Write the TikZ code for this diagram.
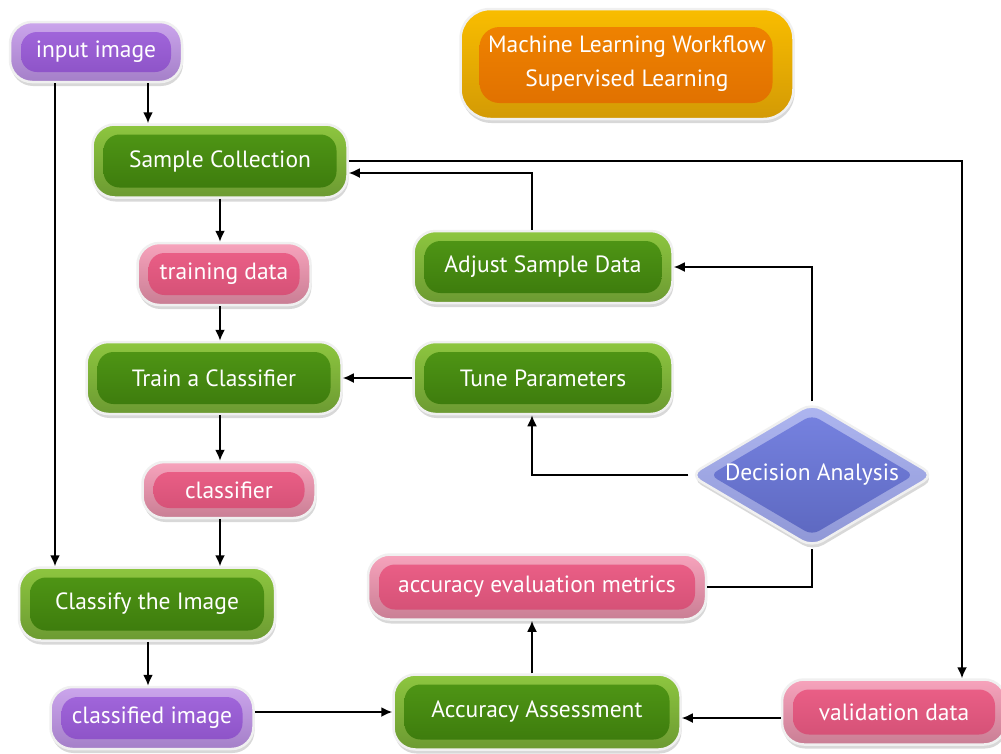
\documentclass[tikz,border=0pt]{standalone}
\usepackage{fontspec}
\setmainfont{PT Sans}
\usetikzlibrary{arrows.meta,shadows,calc,shapes.geometric}
\definecolor{puA}{HTML}{CBA5EC}\definecolor{puB}{HTML}{A47FC8}
\definecolor{puC}{HTML}{A469DE}\definecolor{puD}{HTML}{8A50C4}
\definecolor{grA}{HTML}{8DC63F}\definecolor{grB}{HTML}{6C9A32}
\definecolor{grC}{HTML}{519916}\definecolor{grD}{HTML}{3B780C}
\definecolor{piA}{HTML}{F7A3BC}\definecolor{piB}{HTML}{C97E94}
\definecolor{piC}{HTML}{EE6189}\definecolor{piD}{HTML}{D14F74}
\definecolor{orA}{HTML}{F9BD00}\definecolor{orB}{HTML}{D39A05}
\definecolor{orC}{HTML}{F28600}\definecolor{orD}{HTML}{DE6E00}
\definecolor{blA}{HTML}{AEB6F0}\definecolor{blB}{HTML}{8F97D6}
\definecolor{blC}{HTML}{7884E2}\definecolor{blD}{HTML}{5B66BE}
\begin{document}
\begin{tikzpicture}[x=1pt,y=-1pt,
 every node/.style={font=\fontsize{23.5}{34}\selectfont, text=white},
 pill/.style n args={4}{rounded corners=22pt, draw=gray!12, line width=2.5pt,
   top color=#1, bottom color=#2,
   drop shadow={opacity=0.3,shadow xshift=1pt,shadow yshift=-4pt},
   inner sep=0pt,
   path picture={\shade[top color=#3,bottom color=#4,rounded corners=16pt]
     ([xshift=11pt,yshift=-10pt]path picture bounding box.north west) rectangle
     ([xshift=-11pt,yshift=10pt]path picture bounding box.south east);}},
 titlebox/.style={rounded corners=30pt, draw=gray!12, line width=2.5pt,
   top color=orA, bottom color=orB,
   drop shadow={opacity=0.3,shadow xshift=1pt,shadow yshift=-4pt},
   inner sep=0pt, align=center,
   path picture={\shade[top color=orC,bottom color=orD,rounded corners=20pt]
     ([xshift=19pt,yshift=-18pt]path picture bounding box.north west) rectangle
     ([xshift=-21pt,yshift=16pt]path picture bounding box.south east);}},
 decbox/.style={diamond, aspect=1.69, minimum width=245pt, minimum height=145pt,
   rounded corners=12pt, draw=gray!12, line width=2.5pt,
   top color=blA, bottom color=blB, inner sep=0pt,
   drop shadow={opacity=0.3,shadow xshift=1pt,shadow yshift=-4pt},
   path picture={\shade[top color=blC,bottom color=blD,rounded corners=8pt]
     ($(path picture bounding box.north)+(0,12)$) --
     ($(path picture bounding box.east)+(-20,0)$) --
     ($(path picture bounding box.south)+(0,-12)$) --
     ($(path picture bounding box.west)+(20,0)$) -- cycle;}},
 green/.style={pill={grA}{grB}{grC}{grD}},
 pink/.style={pill={piA}{piB}{piC}{piD}},
 purple/.style={pill={puA}{puB}{puC}{puD}},
 conn/.style={draw=black, line width=1.8pt},
 arr/.style={conn, -{Latex[length=11pt,width=10pt]}}
]
\useasboundingbox (0,0) rectangle (1001,753);
\fill[white] (0,0) rectangle (1001,753);

\node[titlebox, minimum width=333pt, minimum height=110pt] (title) at (627,64)
  {Machine Learning Workflow\\Supervised Learning};

\node[purple, minimum width=172pt, minimum height=60pt] (in) at (96,52) {input image};
\node[green, minimum width=255pt, minimum height=73pt] (sc) at (220,161) {Sample Collection};
\node[pink, minimum width=173pt, minimum height=62pt] (td) at (224,274) {training data};
\node[green, minimum width=255pt, minimum height=72pt] (tc) at (214,378) {Train a Classifier};
\node[pink, minimum width=173pt, minimum height=56pt] (cf) at (229,490) {classifier};
\node[green, minimum width=256pt, minimum height=73pt] (ci) at (147,604) {Classify the Image};
\node[purple, minimum width=203pt, minimum height=62pt] (cd) at (152,718) {classified image};
\node[green, minimum width=287pt, minimum height=75pt] (aa) at (537,712) {Accuracy Assessment};
\node[pink, minimum width=224pt, minimum height=65pt] (vd) at (894,712) {validation data};
\node[pink, minimum width=338pt, minimum height=65pt] (am) at (537,587) {accuracy evaluation metrics};
\node[green, minimum width=259pt, minimum height=72pt] (tp) at (543,378) {Tune Parameters};
\node[green, minimum width=259pt, minimum height=72pt] (as) at (543,267) {Adjust Sample Data};
\node[decbox] (da) at (812,475) {Decision Analysis};

% connectors
\draw[arr] ([xshift=52pt]in.south) -- ([xshift=52pt]in.south |- sc.north);
\draw[arr] ([xshift=-41pt]in.south) -- ([xshift=-41pt]in.south |- ci.north);
\draw[arr] (sc.south) -- (sc.south |- td.north);
\draw[arr] (sc.south |- td.south) -- (sc.south |- tc.north);
\draw[arr] (sc.south |- tc.south) -- (sc.south |- cf.north);
\draw[arr] (sc.south |- cf.south) -- (sc.south |- ci.north);
\draw[arr] ([xshift=1pt]ci.south) -- ([xshift=1pt]ci.south |- cd.north);
\draw[arr] (cd.east |- aa.west) -- (aa.west);
\draw[arr] ([yshift=-6pt]vd.west) -- ([yshift=-6pt]vd.west -| aa.east);
\draw[arr] ([xshift=-5pt]aa.north) -- ([xshift=-5pt]aa.north |- am.south);
\draw[conn] (am.east) -| (da.south);
\draw[arr] (da.north) |- (as.east);
\draw[arr] (da.west) -| ([xshift=-11pt]tp.south);
\draw[arr] (tp.west) -- (tc.east);
\draw[arr] ([xshift=-11pt]as.north) |- ([yshift=-12pt]sc.east);
\draw[arr] (sc.east) -| ([xshift=68pt]vd.north);
\end{tikzpicture}
\end{document}
